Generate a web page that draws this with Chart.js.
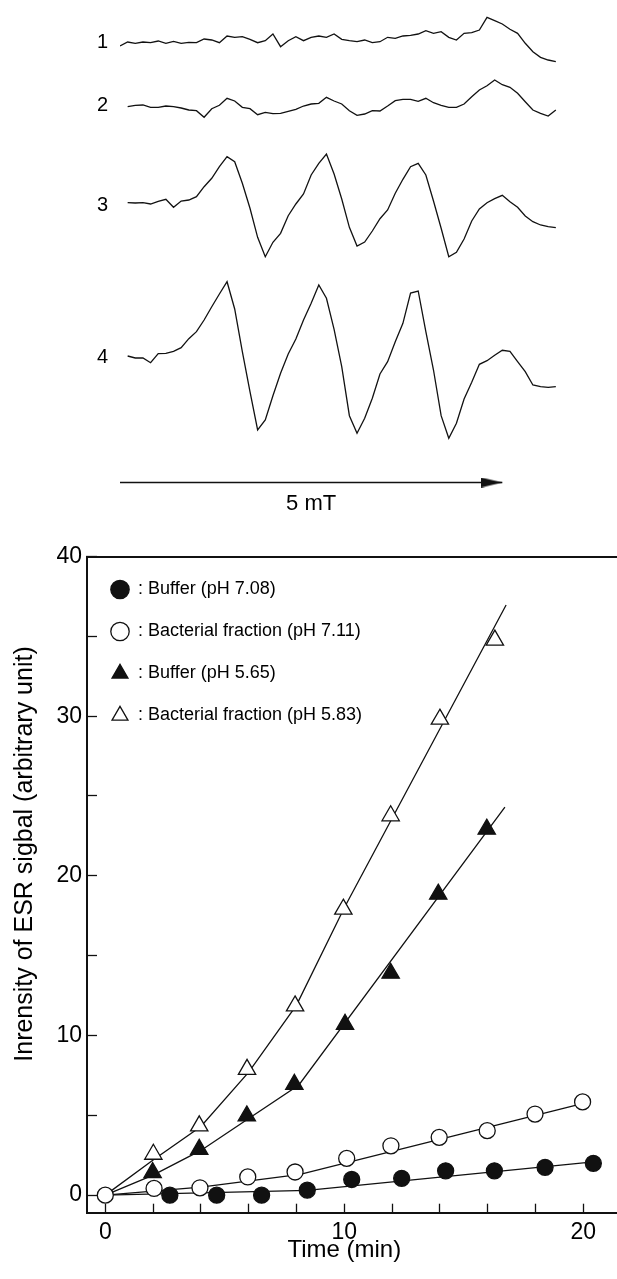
<!DOCTYPE html>
<html>
<head>
<meta charset="utf-8">
<script src="https://cdn.jsdelivr.net/npm/chart.js@4/dist/chart.umd.min.js"></script>
<style>
  html, body { margin: 0; padding: 0; background: #fff; }
  body { width: 617px; height: 1279px; position: relative; overflow: hidden; }
  #spectra { position: absolute; left: 0; top: 0; }
  #kinetics { position: absolute; left: 0; top: 530px; }
</style>
</head>
<body>
<canvas id="spectra" width="617" height="530"></canvas>
<canvas id="kinetics" width="617" height="749"></canvas>
<script>
// ---------------------------------- data : ESR spectra ----------------------------------
const fieldMT = [0.0, 0.1, 0.2, 0.3, 0.4, 0.5, 0.6, 0.7, 0.8, 0.9,
  1.0, 1.1, 1.2, 1.3, 1.4, 1.5, 1.6, 1.7, 1.8, 1.9,
  2.0, 2.1, 2.2, 2.3, 2.4, 2.5, 2.6, 2.7, 2.8, 2.9,
  3.0, 3.1, 3.2, 3.3, 3.4, 3.5, 3.6, 3.7, 3.8, 3.9,
  4.0, 4.1, 4.2, 4.3, 4.4, 4.5, 4.6, 4.7, 4.8, 4.9,
  5.0, 5.1, 5.2, 5.3, 5.4, 5.5, 5.6, 5.7];

const spectrum1 = [-4, 0, -1.3, 0, -0.7, 1, -1.3, 0.7, -1.3, -0.3,
  -0.7, 3, 2, -0.7, 6, 4.7, 5.3, 2.7, -0.7, 1.3,
  8, -4.7, 1.3, 5.3, 1.3, 4.7, 6, 4.7, 8, 2.7,
  1.3, 0.3, 2, -0.7, 0.3, 4.7, 3.7, 6, 6.7, 8,
  11.3, 8.7, 10.3, 4.7, 2, 8.7, 9.3, 12, 24.7, 21.3,
  18, 12.7, 8.7, -1.3, -9.7, -15.3, -18, -19.7];

const spectrum2 = [null, -1.7, -0.3, 0, -2.3, -2.3, -1, -1.7, -3, -5,
  -5.7, -12.3, -3.7, -0.3, 6.7, 4, -2.3, -3.7, -9.7, -7.3,
  -8.7, -8.3, -6.3, -4.3, -1, 1, 1.7, 7.7, 4, 1,
  -5.7, -10.3, -9, -5.7, -6, -1, 4.3, 5.7, 5.7, 3.7,
  6.7, 2.3, -0.3, -2.3, -2.3, 1, 8.3, 15, 19.3, 25,
  20.3, 17.7, 11.7, 3.3, -5, -8.3, -11, -5];

const spectrum3 = [null, 2.3, 2, 2.3, 1, 3.7, 5.7, -2.3, 4, 5,
  8.3, 18.3, 26.7, 38.3, 48.3, 43.3, 21.7, -3.3, -32.3, -51.7,
  -37.3, -28.3, -10.7, 1, 11, 30, 41.7, 51, 31, 6,
  -22.3, -41, -37, -26, -13.7, -5, 11.7, 25.7, 38.3, 41.7,
  30, 4, -23.3, -51.7, -47.3, -34, -16, -4, 2.3, 6.3,
  9.7, 3.3, -2.3, -11, -16.7, -20, -21.7, -22.7];

const spectrum4 = [null, 1, -1, -1, -5.7, 3.3, 3.7, 5.7, 9.3, 18.3,
  25.3, 37, 50.3, 63, 75.3, 48, 5.3, -34.7, -73, -63,
  -38.7, -16.3, 3, 18, 37, 53.7, 72, 58.7, 27.7, -9.7,
  -58.7, -76.3, -61.3, -41.3, -17, -4.7, 15.3, 33.7, 64, 66,
  25.3, -13, -58.7, -81.3, -66.3, -42, -25.3, -7.3, -3.7, 1.7,
  6.7, 5.7, -4.7, -14.7, -28, -29.7, -30.3, -29.7];

const spectrumLabels = ["1", "2", "3", "4"];
const scaleBarMT = [0, 5];
const scaleBarText = "5 mT";

// ---------------------------------- data : kinetics ----------------------------------
const timeBuffer708 = [2.7, 4.66, 6.54, 8.45, 10.31, 12.4, 14.24, 16.28, 18.4, 20.42];
const signalBuffer708 = [0, 0, 0, 0.31, 0.98, 1.05, 1.52, 1.52, 1.74, 1.99];

const timeBacteria711 = [0, 2.04, 3.96, 5.96, 7.94, 10.1, 11.95, 13.97, 15.98, 17.98, 19.97];
const signalBacteria711 = [0, 0.42, 0.46, 1.14, 1.45, 2.3, 3.09, 3.62, 4.04, 5.08, 5.84];

const timeBuffer565 = [1.98, 3.93, 5.92, 7.91, 10.03, 11.94, 13.93, 15.96];
const signalBuffer565 = [1.41, 2.87, 4.96, 6.94, 10.7, 13.9, 18.85, 22.92];

const timeBacteria583 = [2.01, 3.93, 5.93, 7.94, 9.96, 11.94, 14.0, 16.3];
const signalBacteria583 = [2.56, 4.34, 7.88, 11.85, 17.91, 23.76, 29.81, 34.76];

// fitted lines drawn through each series
const fitTime708 = [0, 8.45, 20.42];
const fitSignal708 = [0, 0.3, 2.08];
const fitTime711 = [0, 4, 8.15, 20];
const fitSignal711 = [0, 0.5, 1.3, 5.75];
const fitTime565 = [0, 2, 4, 6, 8.1, 16.72];
const fitSignal565 = [0, 1.25, 2.8, 4.8, 6.9, 24.3];
const fitTime583 = [0, 2, 4, 6, 8, 10, 16.77];
const fitSignal583 = [0, 2.2, 4.3, 7.7, 11.9, 18.0, 36.96];

const seriesLabels = [": Buffer (pH 7.08)", ": Bacterial fraction (pH 7.11)", ": Buffer (pH 5.65)", ": Bacterial fraction (pH 5.83)"];
const timeTicks = [0, 2, 4, 6, 8, 10, 12, 14, 16, 18, 20];
const timeTickLabels = [0, 10, 20];
const signalTicks = [0, 5, 10, 15, 20, 25, 30, 35, 40];
const signalTickLabels = [0, 10, 20, 30, 40];
const xTitle = "Time (min)";
const yTitle = "Inrensity of ESR sigbal (arbitrary unit)";

// ---------------------------------- layout ----------------------------------
const FONT = "'Liberation Sans', Arial, Helvetica, sans-serif";
Chart.defaults.font.family = FONT;
Chart.defaults.color = "#000";
const INK = "#111";

const spectrumBaseline = [488, 425, 325, 173]; // vertical stacking of the four traces
const scaleBarLevel = 47.5;

const toXY = (xs, ys, shift = 0) =>
  xs.map((x, i) => ({ x: x, y: ys[i] === null ? null : ys[i] + shift })).filter(p => p.y !== null);

const noPadding = s => { s.paddingLeft = 0; s.paddingRight = 0; s.paddingTop = 0; s.paddingBottom = 0; };

// arrow head used as point style on the last point of the 5 mT bar
const arrowHead = document.createElement("canvas");
arrowHead.width = 42;
arrowHead.height = 10;
(() => {
  const c = arrowHead.getContext("2d");
  c.fillStyle = INK;
  c.beginPath();
  c.moveTo(0, 0);
  c.lineTo(21, 5);
  c.lineTo(0, 10);
  c.closePath();
  c.fill();
})();

const scaleBarCaption = {
  id: "scaleBarCaption",
  afterDatasetsDraw(chart) {
    const { ctx, scales: { x, y } } = chart;
    ctx.save();
    ctx.font = "22px " + FONT;
    ctx.fillStyle = "#000";
    ctx.textAlign = "center";
    ctx.textBaseline = "middle";
    ctx.fillText(scaleBarText, x.getPixelForValue((scaleBarMT[0] + scaleBarMT[1]) / 2), y.getPixelForValue(scaleBarLevel) + 21);
    ctx.restore();
  }
};

const spectra = [spectrum1, spectrum2, spectrum3, spectrum4];

new Chart(document.getElementById("spectra"), {
  type: "line",
  data: {
    datasets: [
      ...spectra.map((s, i) => ({
        data: toXY(fieldMT, s, spectrumBaseline[i]),
        borderColor: INK,
        borderWidth: 1.3,
        pointRadius: 0,
        tension: 0
      })),
      {
        data: toXY(scaleBarMT, [0, 0], scaleBarLevel),
        borderColor: INK,
        borderWidth: 1.6,
        pointRadius: [0, 1],
        pointStyle: arrowHead
      }
    ]
  },
  options: {
    animation: false,
    responsive: false,
    layout: { padding: 0, autoPadding: false },
    plugins: { legend: { display: false }, tooltip: { enabled: false } },
    scales: {
      x: { type: "linear", min: 0, max: 6.5, display: false },
      y: {
        type: "linear", min: 0, max: 530,
        afterBuildTicks: s => { s.ticks = spectrumBaseline.map(v => ({ value: v })); },
        afterFit: s => { s.width = 120; noPadding(s); },
        ticks: {
          callback: v => spectrumLabels[spectrumBaseline.indexOf(v)],
          padding: 4,
          font: { size: 20 }
        },
        grid: { display: false },
        border: { display: false }
      }
    }
  },
  plugins: [scaleBarCaption]
});

// ---------------------------------- kinetics chart ----------------------------------
const axisTitles = {
  id: "axisTitles",
  afterDraw(chart) {
    const { ctx } = chart;
    ctx.save();
    ctx.fillStyle = "#000";
    ctx.textAlign = "center";
    ctx.textBaseline = "alphabetic";
    ctx.font = "24px " + FONT;
    ctx.fillText(xTitle, chart.scales.x.getPixelForValue(10), 727);
    ctx.translate(31.5, 324);
    ctx.rotate(-Math.PI / 2);
    ctx.font = "25px " + FONT;
    ctx.fillText(yTitle, 0, 0);
    ctx.restore();
  }
};

const markerSets = [
  { t: timeBuffer708, s: signalBuffer708, style: "circle", fill: INK, r: 8 },
  { t: timeBacteria711, s: signalBacteria711, style: "circle", fill: "#fff", r: 8 },
  { t: timeBuffer565, s: signalBuffer565, style: "triangle", fill: INK, r: 10 },
  { t: timeBacteria583, s: signalBacteria583, style: "triangle", fill: "#fff", r: 10 }
];
const fitSets = [
  [fitTime708, fitSignal708], [fitTime711, fitSignal711],
  [fitTime565, fitSignal565], [fitTime583, fitSignal583]
];

new Chart(document.getElementById("kinetics"), {
  type: "scatter",
  data: {
    datasets: [
      ...markerSets.map((m, i) => ({
        label: seriesLabels[i],
        data: toXY(m.t, m.s),
        xAxisID: "x",
        pointStyle: m.style,
        pointRadius: m.r,
        pointBackgroundColor: m.fill,
        pointBorderColor: INK,
        pointBorderWidth: 1.3,
        order: 0
      })),
      ...fitSets.map(f => ({
        label: "",
        data: toXY(f[0], f[1]),
        xAxisID: "x",
        showLine: true,
        borderColor: INK,
        borderWidth: 1.3,
        pointRadius: 0,
        order: 1
      }))
    ]
  },
  options: {
    animation: false,
    responsive: false,
    layout: { padding: 0, autoPadding: false },
    plugins: {
      tooltip: { enabled: false },
      legend: {
        position: "chartArea",
        align: "start",
        // empty title only pushes the entries down below the top frame line
        title: { display: true, text: "", font: { size: 10 }, padding: { top: 14.5, bottom: 0 } },
        labels: {
          filter: item => item.text !== "",
          usePointStyle: true,
          boxWidth: 18,
          boxHeight: 13,
          padding: 24,
          color: "#000",
          font: { size: 18 }
        }
      }
    },
    scales: {
      x: {
        type: "linear", position: "bottom", min: -0.766, max: 21.41,
        afterBuildTicks: s => { s.ticks = timeTicks.map(v => ({ value: v })); },
        afterFit: s => { s.height = 66.3; noPadding(s); },
        ticks: {
          autoSkip: false, maxRotation: 0, padding: 15,
          font: { size: 23 },
          callback: v => timeTickLabels.includes(v) ? String(v) : ""
        },
        grid: { drawOnChartArea: false, tickLength: -9, tickWidth: 1.3, tickColor: INK },
        border: { color: INK, width: 2 }
      },
      xTop: {
        type: "linear", position: "top", min: -0.766, max: 21.41,
        afterFit: s => { s.height = 26.5; noPadding(s); },
        ticks: { display: false },
        grid: { drawOnChartArea: false, drawTicks: false },
        border: { color: INK, width: 2 }
      },
      y: {
        type: "linear", position: "left", min: -1.1, max: 40,
        afterBuildTicks: s => { s.ticks = signalTicks.map(v => ({ value: v })); },
        afterFit: s => { s.width = 87; noPadding(s); },
        ticks: {
          autoSkip: false, padding: 15,
          font: { size: 23 },
          callback: v => signalTickLabels.includes(v) ? String(v) : ""
        },
        grid: { drawOnChartArea: false, tickLength: -10, tickWidth: 1.3, tickColor: INK },
        border: { color: INK, width: 2 }
      }
    }
  },
  plugins: [axisTitles]
});
</script>
</body>
</html>
